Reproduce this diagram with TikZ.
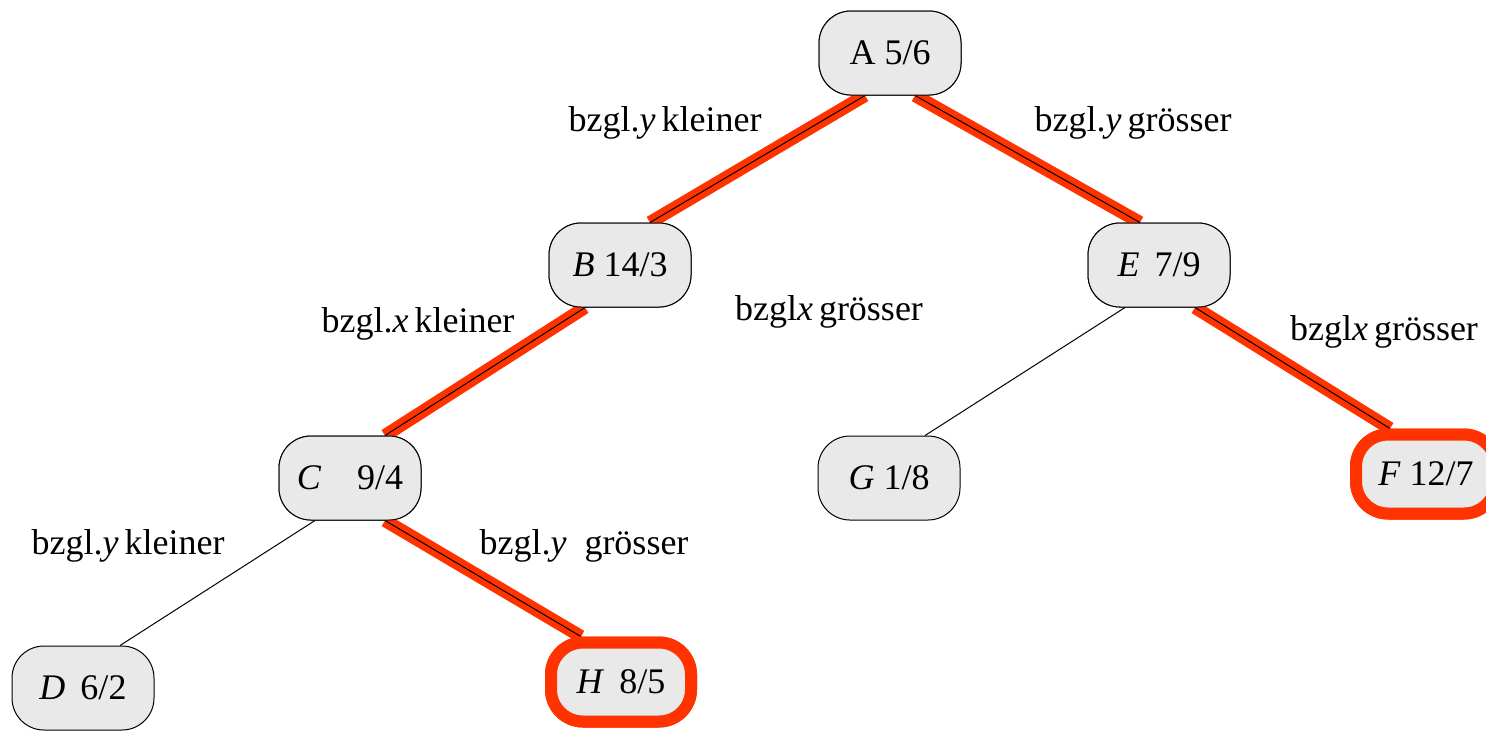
\documentclass[tikz,border=0pt]{standalone}
\usepackage{fontspec}
\setmainfont{Liberation Serif}
\usetikzlibrary{calc}
\definecolor{boxgray}{HTML}{E9E9E9}
\definecolor{hired}{HTML}{FF3300}
\begin{document}
\begin{tikzpicture}[x=0.5pt,y=-0.5pt,
  font=\fontsize{18}{21}\selectfont,
  treenode/.style={draw=black, line width=0.5pt, fill=boxgray, rounded corners=16pt,
     minimum width=71pt, minimum height=42pt, inner sep=0pt},
  hitnode/.style={treenode, draw=hired, line width=6pt, minimum width=70pt, minimum height=39.5pt},
  plainedge/.style={draw=black, line width=0.5pt},
  rededge/.style={draw=hired, line width=6.5pt},
  lbl/.style={inner sep=0pt}]
\useasboundingbox (0,0) rectangle (1486,730);
\node[treenode] (A) at (890,53) {A 5/6};
\node[treenode] (B) at (620,265) {\textit{B} 14/3};
\node[treenode] (E) at (1159,265) {\textit{E}\, 7/9};
\node[treenode] (C) at (350,478) {\textit{C}\quad 9/4};
\node[treenode] (G) at (889,478) {\textit{G} 1/8};
\node[hitnode] (F) at (1426,474) {\textit{F} 12/7};
\node[treenode] (D) at (83,688) {\textit{D}\, 6/2};
\node[hitnode] (H) at (621,682) {\textit{H}\, 8/5};
% edge end points
\coordinate (ab1) at ($(A.south)+(-25,0)$);
\coordinate (ab2) at ($(B.north)+(30,0)$);
\coordinate (ae1) at ($(A.south)+(25,0)$);
\coordinate (ae2) at ($(E.north)+(-19,0)$);
\coordinate (bc1) at ($(B.south)+(-35,0)$);
\coordinate (bc2) at ($(C.north)+(35,0)$);
\coordinate (ch1) at ($(C.south)+(35,0)$);
\coordinate (ch2) at ($(H.north)+(-40,0)$);
\coordinate (ef1) at ($(E.south)+(36,0)$);
\coordinate (ef2) at ($(F.north)+(-36,0)$);
\coordinate (cd1) at ($(C.south)+(-35,0)$);
\coordinate (cd2) at ($(D.north)+(37,0)$);
\coordinate (eg1) at ($(E.south)+(-34,0)$);
\coordinate (eg2) at ($(G.north)+(36,0)$);
% red highlighted edges
\foreach \p/\q in {ab1/ab2, ae1/ae2, bc1/bc2, ch1/ch2, ef1/ef2}{
  \draw[rededge] (\p) -- (\q);
  \draw[plainedge] (\p) -- (\q);
}
\draw[plainedge] (cd1) -- (cd2);
\draw[plainedge] (eg1) -- (eg2);
% redraw nodes on top
\node[treenode] at (A) {A 5/6};
\node[treenode] at (B) {\textit{B} 14/3};
\node[treenode] at (E) {\textit{E}\, 7/9};
\node[treenode] at (C) {\textit{C}\quad 9/4};
\node[hitnode] at (F) {\textit{F} 12/7};
\node[hitnode] at (H) {\textit{H}\, 8/5};
% labels
\node[lbl] (l1) at (665,123) {bzgl.\textit{y}\,kleiner};
\node[lbl] (l2) at (1133,123) {bzgl.\textit{y}\,grösser};
\node[lbl] (l3) at (418,324) {bzgl.\textit{x}\,kleiner};
\node[lbl] (l4) at (829,312) {bzgl\textit{x}\,grösser};
\node[lbl] (l5) at (1384,332) {bzgl\textit{x}\,grösser};
\node[lbl] (l6) at (128,546) {bzgl.\textit{y}\,kleiner};
\node[lbl] (l7) at (584,546) {bzgl.\textit{y}\ \ grösser};
\end{tikzpicture}
\end{document}
